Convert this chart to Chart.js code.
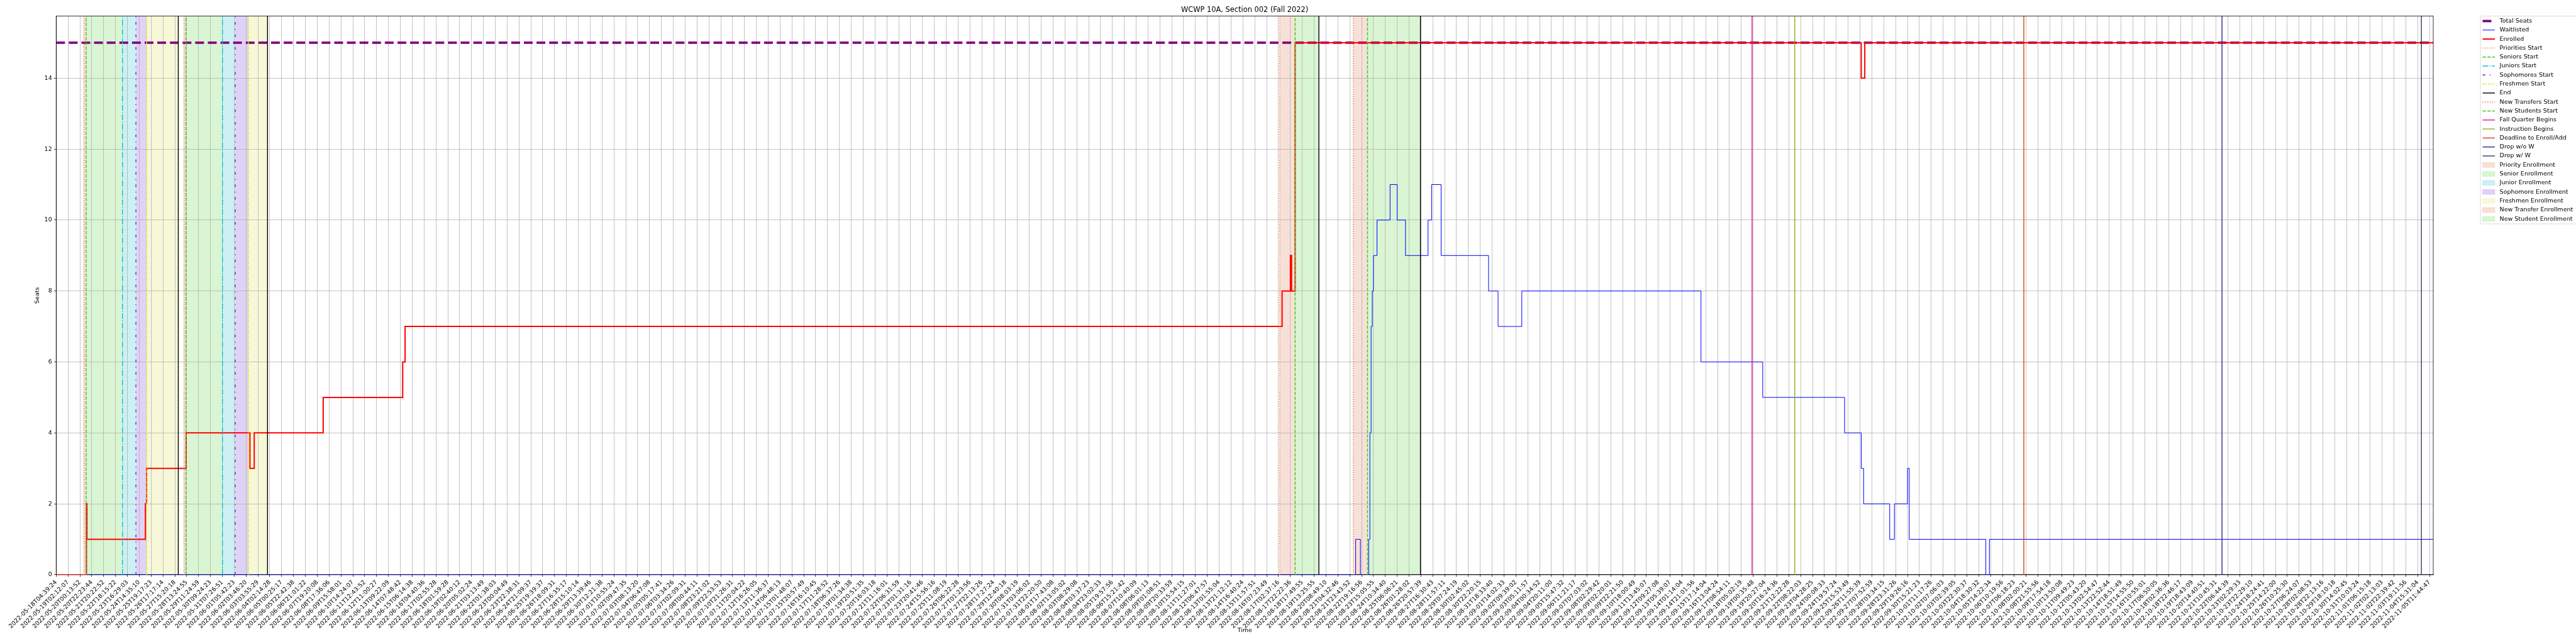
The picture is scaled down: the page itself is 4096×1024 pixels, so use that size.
<!DOCTYPE html>
<html>
<head>
<meta charset="utf-8">
<script src="https://cdn.jsdelivr.net/npm/chart.js@4.4.0/dist/chart.umd.min.js"></script>
<style>
  html, body { margin: 0; padding: 0; background: #fff; }
  canvas { display: block; }
</style>
</head>
<body>
<canvas id="grafico" width="4096" height="1024"></canvas>
<script>
// etiquetas del eje x (una cada N muestras)
var xTickLabels = [
    "2022-05-18T04:39:24", "2022-05-19T02:12:07", "2022-05-20T00:13:52", "2022-05-20T22:23:44", "2022-05-21T20:22:52",
    "2022-05-22T18:15:22", "2022-05-23T16:29:03", "2022-05-24T14:35:10", "2022-05-25T19:17:23", "2022-05-26T17:17:14",
    "2022-05-27T15:20:18", "2022-05-28T13:24:55", "2022-05-29T11:24:59", "2022-05-30T09:24:23", "2022-05-31T07:26:51",
    "2022-06-01T05:42:23", "2022-06-02T03:46:20", "2022-06-03T03:55:29", "2022-06-04T02:14:28", "2022-06-05T00:25:17",
    "2022-06-05T22:42:38", "2022-06-06T21:01:22", "2022-06-07T19:20:08", "2022-06-08T17:36:06", "2022-06-09T15:58:01",
    "2022-06-10T14:24:07", "2022-06-11T12:43:52", "2022-06-12T11:00:27", "2022-06-13T09:22:09", "2022-06-14T07:48:42",
    "2022-06-15T06:14:38", "2022-06-16T04:40:36", "2022-06-17T02:55:28", "2022-06-18T01:59:28", "2022-06-19T02:40:12",
    "2022-06-20T05:02:24", "2022-06-21T03:13:49", "2022-06-22T01:38:03", "2022-06-23T00:04:49", "2022-06-23T22:38:31",
    "2022-06-24T21:09:37", "2022-06-25T19:39:37", "2022-06-26T18:09:31", "2022-06-27T16:35:17", "2022-06-28T15:10:14",
    "2022-06-29T13:39:46", "2022-06-30T12:21:38", "2022-07-01T10:55:24", "2022-07-02T09:47:35", "2022-07-03T08:13:20",
    "2022-07-04T06:47:08", "2022-07-05T05:17:41", "2022-07-06T03:34:26", "2022-07-07T02:09:31", "2022-07-08T00:44:11",
    "2022-07-08T23:21:02", "2022-07-09T22:53:53", "2022-07-10T21:26:31", "2022-07-11T20:04:22", "2022-07-12T16:26:05",
    "2022-07-13T11:36:37", "2022-07-14T06:48:13", "2022-07-15T01:48:07", "2022-07-15T20:57:49", "2022-07-16T16:10:45",
    "2022-07-17T11:28:52", "2022-07-18T06:37:26", "2022-07-19T01:34:38", "2022-07-19T20:51:35", "2022-07-20T16:03:18",
    "2022-07-21T11:16:01", "2022-07-22T06:31:59", "2022-07-23T01:31:16", "2022-07-23T20:41:46", "2022-07-24T15:56:16",
    "2022-07-25T11:08:19", "2022-07-26T06:22:28", "2022-07-27T01:23:56", "2022-07-27T22:13:26", "2022-07-28T17:27:24",
    "2022-07-29T12:40:18", "2022-07-30T08:03:19", "2022-07-31T03:06:02", "2022-07-31T22:20:50", "2022-08-01T17:43:08",
    "2022-08-02T13:05:02", "2022-08-03T08:29:08", "2022-08-04T03:37:23", "2022-08-04T23:02:33", "2022-08-05T19:57:56",
    "2022-08-06T15:21:42", "2022-08-07T10:40:09", "2022-08-08T06:01:13", "2022-08-09T01:08:51", "2022-08-09T20:33:59",
    "2022-08-10T15:54:15", "2022-08-11T11:27:01", "2022-08-12T06:47:57", "2022-08-13T01:55:04", "2022-08-13T21:12:12",
    "2022-08-14T16:40:24", "2022-08-15T11:57:51", "2022-08-16T07:23:49", "2022-08-17T02:37:16", "2022-08-17T22:22:36",
    "2022-08-18T17:49:55", "2022-08-19T13:25:55", "2022-08-20T08:49:10", "2022-08-21T04:32:46", "2022-08-21T23:43:52",
    "2022-08-22T19:16:56", "2022-08-23T15:05:55", "2022-08-24T10:34:40", "2022-08-25T06:06:21", "2022-08-26T01:28:02",
    "2022-08-26T20:57:39", "2022-08-27T16:30:43", "2022-08-28T11:57:11", "2022-08-29T07:24:19", "2022-08-30T02:45:02",
    "2022-08-30T22:20:15", "2022-08-31T18:33:40", "2022-09-01T14:02:33", "2022-09-02T09:39:02", "2022-09-03T05:11:57",
    "2022-09-04T00:34:52", "2022-09-04T20:11:00", "2022-09-05T15:47:32", "2022-09-06T11:21:17", "2022-09-07T07:03:02",
    "2022-09-08T02:29:42", "2022-09-09T02:20:01", "2022-09-09T22:21:50", "2022-09-10T18:00:49", "2022-09-11T13:45:07",
    "2022-09-12T09:27:08", "2022-09-13T05:39:07", "2022-09-14T01:14:04", "2022-09-14T21:01:56", "2022-09-15T17:14:04",
    "2022-09-16T13:04:24", "2022-09-17T08:54:11", "2022-09-18T05:02:19", "2022-09-19T00:35:48", "2022-09-19T20:27:04",
    "2022-09-20T16:24:36", "2022-09-21T12:22:28", "2022-09-22T08:22:03", "2022-09-23T04:28:25", "2022-09-24T00:08:33",
    "2022-09-24T19:57:24", "2022-09-25T15:53:49", "2022-09-26T11:55:39", "2022-09-27T07:52:59", "2022-09-28T03:34:15",
    "2022-09-28T23:31:26", "2022-09-29T19:26:16", "2022-09-30T15:21:23", "2022-10-01T11:17:26", "2022-10-02T07:06:03",
    "2022-10-03T02:39:05", "2022-10-03T22:30:37", "2022-10-04T18:30:32", "2022-10-05T14:22:34", "2022-10-06T10:19:56",
    "2022-10-07T06:18:23", "2022-10-08T02:00:21", "2022-10-08T21:55:56", "2022-10-09T17:54:18", "2022-10-10T13:50:08",
    "2022-10-11T09:49:23", "2022-10-12T05:43:20", "2022-10-13T02:54:47", "2022-10-13T22:52:44", "2022-10-14T18:51:49",
    "2022-10-15T14:55:50", "2022-10-16T10:55:01", "2022-10-17T06:50:05", "2022-10-18T02:36:36", "2022-10-18T22:46:17",
    "2022-10-19T18:43:09", "2022-10-20T14:40:51", "2022-10-21T10:45:31", "2022-10-22T06:44:39", "2022-10-23T02:29:33",
    "2022-10-23T22:29:10", "2022-10-24T18:24:41", "2022-10-25T14:22:00", "2022-10-26T10:25:30", "2022-10-27T06:24:07",
    "2022-10-28T02:08:53", "2022-10-28T22:13:16", "2022-10-29T18:10:18", "2022-10-30T14:02:45", "2022-10-31T10:03:24",
    "2022-11-01T06:15:18", "2022-11-02T02:13:03", "2022-11-02T22:39:42", "2022-11-03T19:11:56", "2022-11-04T15:31:04",
    "2022-11-05T11:44:47"
];
var xMax = 200.3;
var yMax = 15.75;
var yTickStep = 2;

var totalSeats = 15;

// cambios de valor (posicion en unidades de etiqueta, valor)
var enrolledX = [0, 2.55, 2.59, 7.52, 7.62, 10.95, 16.33, 16.69, 22.5, 29.2, 29.4, 103.3, 104.0, 104.1, 104.4, 152.1, 152.4, 200.3];
var enrolledY = [0, 2, 1, 2, 3, 4, 3, 4, 5, 6, 7, 8, 9, 8, 15, 14, 15, 15];

var waitlistedX = [0, 109.5, 109.9, 110.6, 110.7, 110.8, 110.9, 111.0, 111.3, 112.4, 113.0, 113.7, 115.6, 115.9, 116.7,
    120.7, 121.5, 123.5, 138.6, 143.8, 150.7, 152.1, 152.3, 154.5, 154.9, 156.0, 156.15, 162.6, 162.9, 200.3];
var waitlistedY = [0, 1, 0, 1, 4, 7, 8, 9, 10, 11, 10, 9, 10, 11, 9, 8, 7, 8, 6, 5, 4, 3, 2, 1, 2, 3, 1, 0, 1, 1];

// fechas clave
var prioritiesStart = [2.34, 10.77];
var seniorsStart = [2.53, 10.94];
var juniorsStart = [5.59, 14.01];
var sophomoresStart = [6.72, 15.09];
var freshmenStart = [7.62, 16.19];
var endDates = [10.29, 17.81, 106.4, 114.96];
var newTransfersStart = [103.1, 109.3];
var newStudentsStart = [104.4, 110.5];
var fallQuarterBegins = [142.9];
var instructionBegins = [146.5];
var deadlineEnrollAdd = [165.8];
var dropNoW = [182.5];
var dropW = [199.3];

// periodos sombreados
var priorityEnrollment = [[2.34, 2.53], [10.77, 10.94]];
var seniorEnrollment = [[2.53, 5.59], [10.94, 14.01]];
var juniorEnrollment = [[5.59, 6.72], [14.01, 15.09]];
var sophomoreEnrollment = [[6.72, 7.62], [15.09, 16.19]];
var freshmenEnrollment = [[7.62, 10.29], [16.19, 17.81]];
var newTransferEnrollment = [[103.1, 104.4], [109.3, 110.5]];
var newStudentEnrollment = [[104.4, 106.4], [110.5, 114.96]];

var punteado = [1.42, 2.34];
var rayado = [5.25, 2.27];
var rayaPunto = [9.1, 2.27, 1.42, 2.27];

function puntos(xs, ys) {
    return xs.map(function (x, i) { return { x: x, y: ys[i] }; });
}

function verticales(xs) {
    var d = [];
    xs.forEach(function (x) {
        d.push({ x: x, y: 0 }, { x: x, y: yMax }, { x: x, y: null });
    });
    return d;
}

function linea(label, xs, color, dash) {
    return {
        label: label, data: verticales(xs), borderColor: color, borderWidth: 1.4,
        borderDash: dash, order: 1
    };
}

var bandas = [
    { label: 'Priority Enrollment', color: 'rgba(215,100,55,0.2)', rangos: priorityEnrollment },
    { label: 'Senior Enrollment', color: 'rgba(65,205,35,0.2)', rangos: seniorEnrollment },
    { label: 'Junior Enrollment', color: 'rgba(5,180,190,0.2)', rangos: juniorEnrollment },
    { label: 'Sophomore Enrollment', color: 'rgba(95,35,205,0.2)', rangos: sophomoreEnrollment },
    { label: 'Freshmen Enrollment', color: 'rgba(215,220,60,0.2)', rangos: freshmenEnrollment },
    { label: 'New Transfer Enrollment', color: 'rgba(215,100,55,0.2)', rangos: newTransferEnrollment },
    { label: 'New Student Enrollment', color: 'rgba(65,205,35,0.2)', rangos: newStudentEnrollment }
];

var datasets = [
    { label: 'Total Seats', data: [{ x: 0, y: totalSeats }, { x: xMax, y: totalSeats }], borderColor: '#800080',
        borderWidth: 3.8, borderDash: [14, 6.1], order: 4 },
    { label: 'Waitlisted', data: puntos(waitlistedX, waitlistedY), borderColor: '#0000ff', borderWidth: 1,
        stepped: 'before', order: 3 },
    { label: 'Enrolled', data: puntos(enrolledX, enrolledY), borderColor: '#ff0000', borderWidth: 2,
        stepped: 'before', order: 2 },
    linea('Priorities Start', prioritiesStart, '#ef6c3a', punteado),
    linea('Seniors Start', seniorsStart, '#3cc81e', rayado),
    linea('Juniors Start', juniorsStart, '#00c3d3', rayaPunto),
    linea('Sophomores Start', sophomoresStart, '#6420d0', [4.26, 7.1, 1.42, 7.1]),
    linea('Freshmen Start', freshmenStart, '#dede2a', [4.26, 1.42, 1.42, 1.42]),
    linea('End', endDates, '#000000', []),
    linea('New Transfers Start', newTransfersStart, '#ef6c3a', punteado),
    linea('New Students Start', newStudentsStart, '#3cc81e', rayado),
    linea('Fall Quarter Begins', fallQuarterBegins, '#e0129d', []),
    linea('Instruction Begins', instructionBegins, '#8cae1c', []),
    linea('Deadline to Enroll/Add', deadlineEnrollAdd, '#d1431a', []),
    linea('Drop w/o W', dropNoW, '#2a2a8c', []),
    linea('Drop w/ W', dropW, '#2d3d5c', [])
];

// fondo blanco y periodos (debajo de la grilla)
var fondoBandas = {
    id: 'fondoBandas',
    beforeDraw: function (chart) {
        var ctx = chart.ctx, area = chart.chartArea, sx = chart.scales.x;
        ctx.save();
        ctx.fillStyle = '#ffffff';
        ctx.fillRect(0, 0, chart.width, chart.height);
        bandas.forEach(function (b) {
            ctx.fillStyle = b.color;
            b.rangos.forEach(function (r) {
                var x0 = sx.getPixelForValue(r[0]);
                var x1 = sx.getPixelForValue(r[1]);
                ctx.fillRect(x0, area.top, x1 - x0, area.bottom - area.top);
            });
        });
        ctx.restore();
    }
};

// marco del area de trazado
var marco = {
    id: 'marco',
    beforeDatasetsDraw: function (chart) {
        var ctx = chart.ctx, a = chart.chartArea;
        ctx.save();
        ctx.strokeStyle = '#000';
        ctx.lineWidth = 0.8;
        ctx.strokeRect(a.left, a.top, a.right - a.left, a.bottom - a.top);
        ctx.restore();
    }
};

// leyenda al estilo matplotlib, fuera del grafico
var leyenda = {
    id: 'leyenda',
    afterDraw: function (chart) {
        var ctx = chart.ctx;
        var izq = chart.chartArea.right + 75, arriba = chart.chartArea.top;
        var fila = 14.3, y0 = arriba + 7.9, xl = izq + 3.5, largo = 19.5, xt = xl + largo + 7.6;
        var n = chart.data.datasets.length + bandas.length;
        ctx.save();
        ctx.fillStyle = 'rgba(255,255,255,0.8)';
        ctx.strokeStyle = '#d0d0d0';
        ctx.lineWidth = 0.8;
        ctx.beginPath();
        ctx.roundRect(izq, arriba, 220, fila * (n - 1) + 15.8, 2.7);
        ctx.fill();
        ctx.stroke();

        ctx.font = '9.5px "DejaVu Sans"';
        ctx.textBaseline = 'middle';
        ctx.textAlign = 'left';
        chart.data.datasets.forEach(function (ds, i) {
            var y = y0 + i * fila;
            ctx.beginPath();
            ctx.setLineDash(ds.borderDash || []);
            ctx.lineWidth = ds.borderWidth;
            ctx.strokeStyle = ds.borderColor;
            ctx.moveTo(xl, y);
            ctx.lineTo(ds.label === 'Total Seats' ? xl + 14 : xl + largo, y);
            ctx.stroke();
            ctx.setLineDash([]);
            ctx.fillStyle = '#000';
            ctx.fillText(ds.label, xt, y);
        });
        bandas.forEach(function (b, j) {
            var y = y0 + (chart.data.datasets.length + j) * fila;
            ctx.fillStyle = b.color;
            ctx.fillRect(xl, y - 3.8, largo, 7.6);
            ctx.strokeStyle = b.color;
            ctx.lineWidth = 0.7;
            ctx.strokeRect(xl, y - 3.8, largo, 7.6);
            ctx.fillStyle = '#000';
            ctx.fillText(b.label, xt, y);
        });
        ctx.restore();
    }
};

Chart.defaults.font.family = '"DejaVu Sans", sans-serif';
Chart.defaults.color = '#000';

var ctx = document.getElementById("grafico").getContext("2d");
window.grafico = new Chart(ctx, {
    type: 'line',
    data: { datasets: datasets },
    options: {
        responsive: false,
        animation: false,
        devicePixelRatio: 1,
        elements: {
            point: { radius: 0, hitRadius: 0 },
            line: { tension: 0, fill: false, borderCapStyle: 'butt', borderJoinStyle: 'miter' }
        },
        layout: { padding: { left: 54, right: 227, top: 0, bottom: 16 } },
        plugins: {
            legend: { display: false },
            tooltip: { enabled: false },
            title: {
                display: true,
                text: 'WCWP 10A, Section 002 (Fall 2022)',
                fullSize: false,
                color: '#000',
                font: { size: 11.4, weight: 'normal' },
                padding: { top: 8.9, bottom: 3 }
            }
        },
        scales: {
            x: {
                type: 'linear',
                min: 0,
                max: xMax,
                afterFit: function (s) { s.height = 94.1; },
                ticks: {
                    stepSize: 1,
                    autoSkip: false,
                    includeBounds: false,
                    maxTicksLimit: 500,
                    minRotation: 45,
                    maxRotation: 45,
                    padding: 3.3,
                    color: '#000',
                    font: { size: 9.5 },
                    callback: function (v) {
                        var i = Math.round(v);
                        return Math.abs(v - i) < 1e-6 && xTickLabels[i] ? xTickLabels[i] : '';
                    }
                },
                grid: { color: '#b0b0b0', lineWidth: 0.76, tickLength: 3.3, tickColor: '#000', tickWidth: 0.76 },
                border: { color: '#000', width: 0.8 },
                title: { display: true, text: 'Time', color: '#000', font: { size: 9.5 }, padding: 0 }
            },
            y: {
                type: 'linear',
                min: 0,
                max: yMax,
                afterFit: function (s) { s.width = 35.3; },
                ticks: { stepSize: yTickStep, includeBounds: false, padding: 3.3, color: '#000', font: { size: 9.5 } },
                grid: { color: '#b0b0b0', lineWidth: 0.76, tickLength: 3.3, tickColor: '#000', tickWidth: 0.76 },
                border: { color: '#000', width: 0.8 },
                title: { display: true, text: 'Seats', color: '#000', font: { size: 9.5 }, padding: 0 }
            }
        }
    },
    plugins: [fondoBandas, marco, leyenda]
});
</script>
</body>
</html>
